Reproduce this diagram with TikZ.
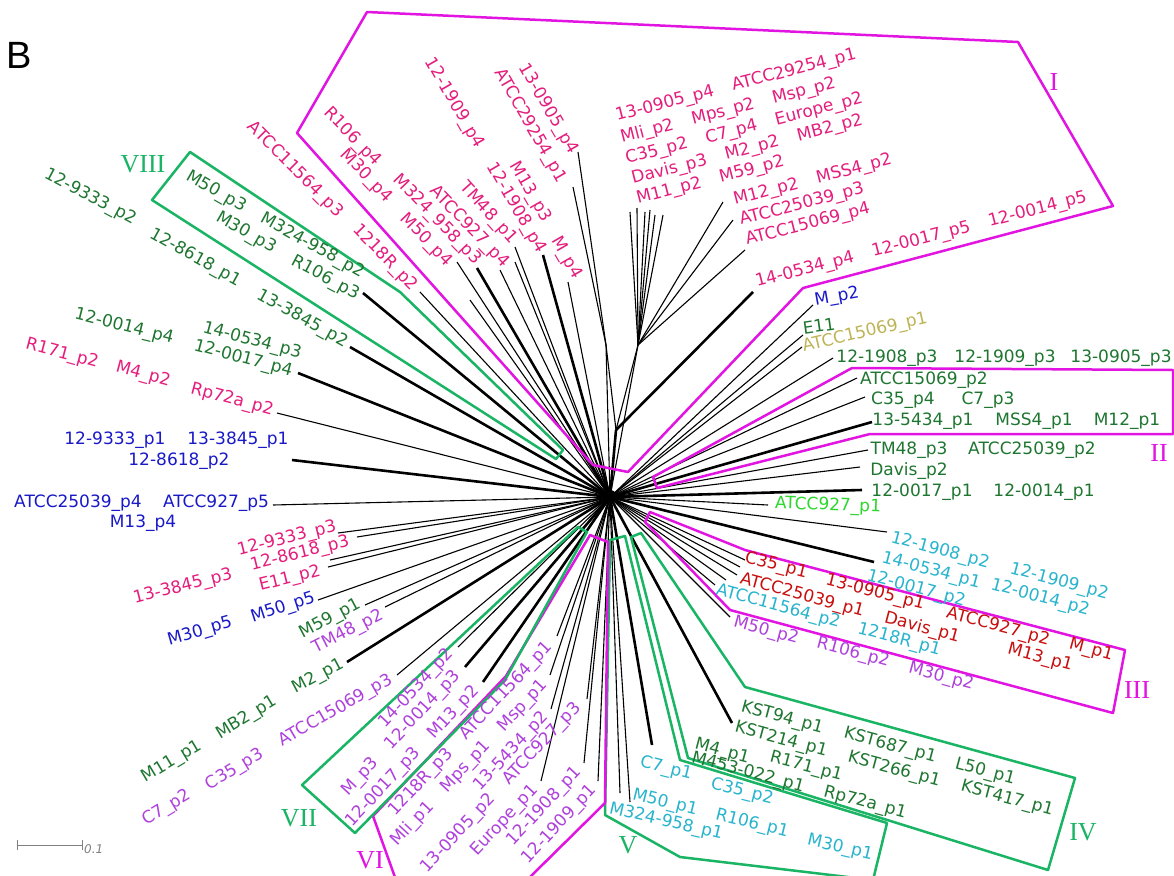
\documentclass[tikz,border=0pt]{standalone}
\usepackage{tikz}
\usepackage{fontspec}
\newfontfamily\labf{DejaVu Sans}
\newfontfamily\romf{Liberation Serif}
\newfontfamily\bigf{Liberation Sans}
\definecolor{pk}{RGB}{228,30,125}
\definecolor{dg}{RGB}{30,118,48}
\definecolor{bl}{RGB}{25,25,200}
\definecolor{cy}{RGB}{40,180,205}
\definecolor{rd}{RGB}{200,15,15}
\definecolor{pu}{RGB}{175,65,220}
\definecolor{ol}{RGB}{190,180,85}
\definecolor{lg}{RGB}{45,215,45}
\definecolor{mg}{RGB}{225,20,225}
\definecolor{gb}{RGB}{25,180,100}
\tikzset{
  lab/.style={font=\labf\fontsize{17}{20}\selectfont, inner sep=0pt},
  rom/.style={font=\romf\fontsize{26}{28}\selectfont, inner sep=0pt},
  br/.style={line width=1.1pt, black},
  tk/.style={line width=2.6pt, black},
  mbox/.style={draw=mg, line width=2.5pt, line join=round},
  gbox/.style={draw=gb, line width=2.5pt, line join=round},
  row/.style={lab, anchor=base west},
  rowvi/.style={lab, anchor=west, rotate=47, text=pu}
}
\begin{document}
\begin{tikzpicture}[x=1pt,y=-1pt]
\useasboundingbox (0,0) rectangle (1174,875);
\clip (0,0) rectangle (1174,875);
\fill[white] (0,0) rectangle (1174,875);

% ---------------- tree ----------------
\coordinate (c) at (610,497);
\coordinate (t1) at (616,430);
\coordinate (t2) at (638,345);
\coordinate (t3) at (606,345);
\draw[tk] (c) -- (t1);
\draw[br] (t1) -- (t2);
\draw[br] (c) -- (t2);
\draw[br] (t1) -- (t3);
\draw[br] (c) -- (t3);
\foreach \x/\y [count=\i] in {420/292,457/262,515/262,515/247,568/282,277/413,273/505,338/533,357/537,328/567,318/600,365/605,385/607,397/675,458/647,557/636,550/675,551/709,587/699,541/781,584/763,598/781,620/793,630/802,730/617,745/560,740/567,737/575,726/580,715/585,887/532,768/505,860/467,868/450,865/397,857/378,833/358,802/347,803/335,813/305,470/300,500/270,330/560}
  {\coordinate (a\i) at (\x,\y); \draw[br] (c) -- (a\i);}
\foreach \x/\y [count=\i] in {363/293,477/268,543/255,350/347,298/373,292/460,347/662,465/667,483/682,652/745,732/723,874/562,862/490,872/422}
  {\coordinate (b\i) at (\x,\y); \draw[tk] (c) -- (b\i);}
\foreach \x/\y [count=\i] in {630/212,637/208,645/212,650/210,655/215,663/215,723/202,733/220,745/250}
  {\coordinate (d\i) at (\x,\y); \draw[br] (t2) -- (d\i);}
\foreach \x/\y [count=\i] in {578/152,573/187}
  {\coordinate (e\i) at (\x,\y); \draw[br] (t3) -- (e\i);}
\coordinate (f1) at (753,292);
\draw[tk] (t1) -- (f1);
\fill (c) circle (7);

% ---------------- boxes ----------------
\draw[mbox] (367,12) -- (1018,42) -- (1113,206) -- (803,288) -- (628,472) -- (593,465) -- (297,133) -- cycle;
\draw[gbox] (190,152) -- (400,292) -- (563,450) -- (556,459) -- (152,200) -- cycle;
\draw[mbox] (653,477) -- (852,368) -- (1173,370) -- (1173,434) -- (870,434) -- (657,488) -- cycle;
\draw[mbox] (650,512) -- (745,550) -- (1125,650) -- (1113,713) -- (730,610) -- (645,522) -- cycle;
\draw[gbox] (631,537) -- (641,533) -- (745,687) -- (1075,778) -- (1048,870) -- (688,758) -- cycle;
\draw[gbox] (610,540) -- (625,536) -- (680,760) -- (887,823) -- (873,880) -- (680,857) -- (605,815) -- cycle;
\draw[mbox] (373,816) -- (506,676) -- (590,535) -- (608,542) -- (605,803) -- (527,880) -- (396,880) -- cycle;
\draw[gbox] (302,785) -- (578,527) -- (587,532) -- (505,680) -- (355,833) -- cycle;

% ---------------- numerals ----------------
\node[font=\bigf\fontsize{38}{40}\selectfont, inner sep=0pt] (B) at (19,55) {B};
\node[rom, text=mg] (nI) at (1054,82) {I};
\node[rom, text=mg] (nII) at (1159,453) {II};
\node[rom, text=mg] (nIII) at (1137,690) {III};
\node[rom, text=gb] (nIV) at (1083,832) {IV};
\node[rom, text=gb] (nV) at (628,845) {V};
\node[rom, text=mg] (nVI) at (370,860) {VI};
\node[rom, text=gb] (nVII) at (299,818) {VII};
\node[rom, text=gb] (nVIII) at (143,164) {VIII};

% scale bar
\coordinate (s1) at (17,845); \coordinate (s2) at (82,845);
\draw[gray, line width=0.9pt] (s1) -- (s2);
\draw[gray, line width=0.9pt] (17,840) -- (17,850);
\draw[gray, line width=0.9pt] (82,840) -- (82,850);
\node[inner sep=0pt, anchor=west, text=gray, font=\labf\itshape\fontsize{12}{14}\selectfont] (sc) at (84,849) {0.1};

% ---------------- group I, top-left (pink) ----------------
\node[lab,text=pk,rotate=-60] (p1) at (454,103) {12-1909\_p4};
\node[lab,text=pk,rotate=-60] (p2) at (548,109) {13-0905\_p4};
\node[lab,text=pk,rotate=-60] (p3) at (530,126) {ATCC29254\_p1};
\node[lab,text=pk,rotate=-46] (p4) at (352,137) {R106\_p4};
\node[lab,text=pk,rotate=-46] (p5) at (366,176) {M30\_p4};
\node[lab,text=pk,rotate=-45] (p6) at (295,170) {ATCC11564\_p3};
\node[lab,text=pk,rotate=-46] (p7) at (385,258) {1218R\_p2};
\node[lab,text=pk,rotate=-46] (p8) at (437,220) {M324\_958\_p3};
\node[lab,text=pk,rotate=-46] (p9) at (426,240) {M50\_p4};
\node[lab,text=pk,rotate=-46] (p10) at (469,227) {ATCC927\_p4};
\node[lab,text=pk,rotate=-48] (p11) at (488,213) {TM48\_p1};
\node[lab,text=pk,rotate=-60] (p12) at (516,208) {12-1908\_p4};
\node[lab,text=pk,rotate=-60] (p13) at (530,192) {M13\_p3};
\node[lab,text=pk,rotate=-60] (p14) at (566,258) {M\_p4};

% ---------------- group I, top-right rows (pink) ----------------
\node[row,text=pk,rotate=14.5] (r1) at (617,121) {13-0905\_p4\hspace{19pt}ATCC29254\_p1};
\node[row,text=pk,rotate=14.5] (r2) at (622,143) {Mli\_p2\hspace{19pt}Mps\_p2\hspace{19pt}Msp\_p2};
\node[row,text=pk,rotate=14.5] (r3) at (627,164) {C35\_p2\hspace{19pt}C7\_p4\hspace{19pt}Europe\_p2};
\node[row,text=pk,rotate=14.5] (r4) at (633,184) {Davis\_p3\hspace{19pt}M2\_p2\hspace{19pt}MB2\_p2};
\node[row,text=pk,rotate=14.5] (r5) at (638,204) {M11\_p2\hspace{19pt}M59\_p2};
\node[row,text=pk,rotate=14.5] (r6) at (735,205) {M12\_p2\hspace{19pt}MSS4\_p2};
\node[row,text=pk,rotate=14.5] (r7) at (741,225) {ATCC25039\_p3};
\node[row,text=pk,rotate=14.5] (r8) at (747,245) {ATCC15069\_p4};
\node[row,text=pk,rotate=14.5] (r9) at (757,287) {14-0534\_p4\hspace{19pt}12-0017\_p5\hspace{19pt}12-0014\_p5};

% ---------------- VIII and left (green) ----------------
\node[lab,text=dg,rotate=-28] (g1) at (90,197) {12-9333\_p2};
\node[lab,text=dg,rotate=-29] (g2) at (195,258) {12-8618\_p1};
\node[lab,text=dg,rotate=-29] (g3) at (302,319) {13-3845\_p2};
\node[lab,text=dg,rotate=-30] (g4) at (216,192) {M50\_p3};
\node[lab,text=dg,rotate=-30] (g5) at (246,233) {M30\_p3};
\node[lab,text=dg,rotate=-29] (g6) at (312,246) {M324-958\_p2};
\node[lab,text=dg,rotate=-28] (g7) at (325,278) {R106\_p3};
\node[lab,text=dg,rotate=-14] (g8) at (124,327) {12-0014\_p4};
\node[lab,text=dg,rotate=-15] (g9) at (252,341) {14-0534\_p3};
\node[lab,text=dg,rotate=-15] (g10) at (243,359) {12-0017\_p4};
\node[lab,text=pk,rotate=-15] (g11) at (62,354) {R171\_p2};
\node[lab,text=pk,rotate=-15] (g12) at (143,375) {M4\_p2};
\node[lab,text=pk,rotate=-15] (g13) at (232,400) {Rp72a\_p2};

% blue left
\node[lab,text=bl] (u1) at (115,440) {12-9333\_p1};
\node[lab,text=bl] (u2) at (238,440) {13-3845\_p1};
\node[lab,text=bl] (u3) at (179,461) {12-8618\_p2};
\node[lab,text=bl] (u4) at (78,503) {ATCC25039\_p4};
\node[lab,text=bl] (u5) at (216,503) {ATCC927\_p5};
\node[lab,text=bl] (u6) at (143,523) {M13\_p4};

% lower left
\node[lab,text=pk,rotate=14] (q1) at (287,539) {12-9333\_p3};
\node[lab,text=pk,rotate=14] (q2) at (300,554) {12-8618\_p3};
\node[lab,text=pk,rotate=14] (q3) at (183,587) {13-3845\_p3};
\node[lab,text=pk,rotate=14] (q4) at (290,579) {E11\_p2};
\node[lab,text=bl,rotate=18] (q5) at (283,608) {M50\_p5};
\node[lab,text=bl,rotate=16] (q6) at (200,632) {M30\_p5};
\node[lab,text=dg,rotate=28] (q7) at (330,619) {M59\_p1};
\node[lab,text=pu,rotate=27] (q8) at (348,632) {TM48\_p2};
\node[lab,text=dg,rotate=28] (q9) at (318,677) {M2\_p1};
\node[lab,text=pu,rotate=30] (q10) at (336,711) {ATCC15069\_p3};
\node[lab,text=dg,rotate=31] (q11) at (247,718) {MB2\_p1};
\node[lab,text=dg,rotate=31] (q12) at (172,762) {M11\_p1};
\node[lab,text=pu,rotate=31] (q13) at (235,770) {C35\_p3};
\node[lab,text=pu,rotate=31] (q14) at (167,808) {C7\_p2};

% VII rows
\node[rowvi] (v1) at (382,726) {14-0534\_p2};
\node[rowvi] (v2) at (345,794) {M\_p3\hspace{19pt}12-0014\_p3};
\node[rowvi] (v3) at (349,825) {12-0017\_p3\hspace{19pt}M13\_p2};
% VI rows
\node[rowvi] (w1) at (392,814) {1218R\_p3\hspace{19pt}ATCC11564\_p1};
\node[rowvi] (w2) at (394,844) {Mli\_p1\hspace{19pt}Mps\_p1\hspace{19pt}Msp\_p1};
\node[rowvi] (w3) at (477,789) {13-5434\_p2};
\node[rowvi] (w4) at (424,871) {13-0905\_p2\hspace{19pt}ATCC927\_p3};
\node[rowvi] (w5) at (474,854) {Europe\_p1};
\node[rowvi] (w6) at (510,844) {12-1908\_p1};
\node[rowvi] (w7) at (525,862) {12-1909\_p1};

% V (cyan)
\node[lab,text=cy,rotate=-14] (x1) at (666,769) {C7\_p1};
\node[lab,text=cy,rotate=-14] (x2) at (742,792) {C35\_p2};
\node[lab,text=cy,rotate=-14] (x3) at (665,803) {M50\_p1};
\node[lab,text=cy,rotate=-14] (x4) at (752,824) {R106\_p1};
\node[lab,text=cy,rotate=-13] (x5) at (666,822) {M324-958\_p1};
\node[lab,text=cy,rotate=-13] (x6) at (840,848) {M30\_p1};

% IV (green)
\node[lab,text=dg,rotate=-15] (y1) at (782,718) {KST94\_p1};
\node[lab,text=dg,rotate=-15] (y2) at (890,746) {KST687\_p1};
\node[lab,text=dg,rotate=-15] (y3) at (985,772) {L50\_p1};
\node[lab,text=dg,rotate=-15] (y4) at (781,740) {KST214\_p1};
\node[lab,text=dg,rotate=-15] (y5) at (894,770) {KST266\_p1};
\node[lab,text=dg,rotate=-15] (y6) at (1007,799) {KST417\_p1};
\node[lab,text=dg,rotate=-15] (y7) at (722,752) {M4\_p1};
\node[lab,text=dg,rotate=-15] (y8) at (806,767) {R171\_p1};
\node[lab,text=dg,rotate=-15] (y9) at (748,773) {M453-022\_p1};
\node[lab,text=dg,rotate=-15] (y10) at (865,803) {Rp72a\_p1};

% III
\node[lab,text=rd,rotate=-14] (z1) at (776,566) {C35\_p1};
\node[lab,text=rd,rotate=-14] (z2) at (875,593) {13-0905\_p1};
\node[lab,text=rd,rotate=-15] (z3) at (802,596) {ATCC25039\_p1};
\node[lab,text=rd,rotate=-15] (z4) at (922,628) {Davis\_p1};
\node[lab,text=rd,rotate=-15] (z5) at (998,627) {ATCC927\_p2};
\node[lab,text=rd,rotate=-15] (z6) at (1091,650) {M\_p1};
\node[lab,text=rd,rotate=-15] (z7) at (1040,658) {M13\_p1};
\node[lab,text=cy,rotate=-15] (z8) at (940,551) {12-1908\_p2};
\node[lab,text=cy,rotate=-15] (z9) at (931,571) {14-0534\_p1};
\node[lab,text=cy,rotate=-15] (z10) at (1059,582) {12-1909\_p2};
\node[lab,text=cy,rotate=-15] (z11) at (916,589) {12-0017\_p2};
\node[lab,text=cy,rotate=-15] (z12) at (1040,598) {12-0014\_p2};
\node[lab,text=cy,rotate=-15] (z13) at (778,607) {ATCC11564\_p2};
\node[lab,text=cy,rotate=-15] (z14) at (899,640) {1218R\_p1};
\node[lab,text=pu,rotate=-15] (z15) at (766,631) {M50\_p2};
\node[lab,text=pu,rotate=-15] (z16) at (853,653) {R106\_p2};
\node[lab,text=pu,rotate=-15] (z17) at (941,677) {M30\_p2};

% right side (II and around)
\node[lab,text=dg] (h1) at (887,358) {12-1908\_p3};
\node[lab,text=dg] (h2) at (1005,358) {12-1909\_p3};
\node[lab,text=dg] (h3) at (1121,358) {13-0905\_p3};
\node[lab,text=dg] (h4) at (924,380) {ATCC15069\_p2};
\node[lab,text=dg] (h5) at (903,400) {C35\_p4};
\node[lab,text=dg] (h6) at (988,400) {C7\_p3};
\node[lab,text=dg] (h7) at (923,421) {13-5434\_p1};
\node[lab,text=dg] (h8) at (1034,421) {MSS4\_p1};
\node[lab,text=dg] (h9) at (1127,421) {M12\_p1};
\node[lab,text=dg] (h10) at (909,450) {TM48\_p3};
\node[lab,text=dg] (h11) at (1032,450) {ATCC25039\_p2};
\node[lab,text=dg] (h12) at (909,471) {Davis\_p2};
\node[lab,text=dg] (h13) at (922,492) {12-0017\_p1};
\node[lab,text=dg] (h14) at (1044,492) {12-0014\_p1};
\node[lab,text=lg,rotate=-2] (h15) at (828,506) {ATCC927\_p1};
\node[lab,text=bl,rotate=10] (h16) at (837,297) {M\_p2};
\node[lab,text=dg,rotate=8] (h17) at (819,326) {E11};
\node[lab,text=ol,rotate=13] (h18) at (865,333) {ATCC15069\_p1};
\end{tikzpicture}
\end{document}
